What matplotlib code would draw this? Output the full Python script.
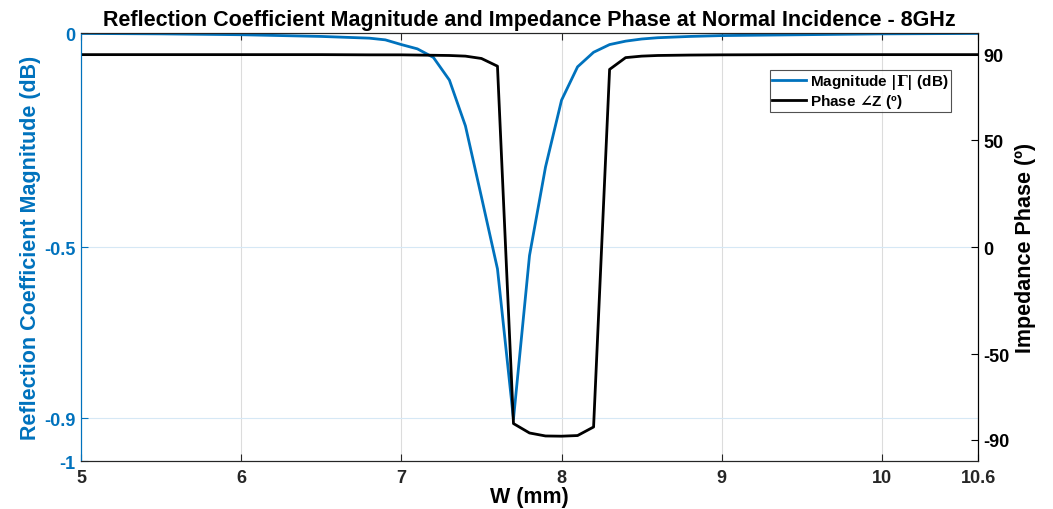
import numpy as np
import matplotlib.pyplot as plt

plt.rcParams['font.family'] = ['Liberation Sans', 'DejaVu Sans']
plt.rcParams['font.weight'] = 'bold'
plt.rcParams['mathtext.fontset'] = 'dejavuserif'
plt.rcParams['axes.unicode_minus'] = False

# W sweep (mm), 0.1 mm step
w = [5.0, 5.5, 6.0, 6.5, 6.8, 6.9, 7.0, 7.1, 7.2, 7.3, 7.4, 7.5, 7.6, 7.7, 7.8,
     7.9, 8.0, 8.1, 8.2, 8.3, 8.4, 8.5, 8.6, 8.8, 9.0, 9.5, 10.0, 10.6]
mag_db = [-0.001, -0.002, -0.004, -0.008, -0.012, -0.016, -0.027, -0.037, -0.057,
          -0.110, -0.217, -0.383, -0.551, -0.902, -0.520, -0.313, -0.157, -0.079,
          -0.045, -0.027, -0.019, -0.014, -0.011, -0.008, -0.006, -0.004, -0.002, -0.001]
phase_deg = [89.9, 89.9, 89.9, 89.9, 89.8, 89.8, 89.8, 89.7, 89.6, 89.5, 89.2, 88.1,
             84.5, -82.5, -86.9, -88.3, -88.4, -88.1, -84.1, 83.0, 88.5, 89.2, 89.5,
             89.7, 89.8, 89.9, 89.9, 89.9]

xticks = [5, 6, 7, 8, 9, 10, 10.6]
xtick_labels = ['5', '6', '7', '8', '9', '10', '10.6']
mag_ticks = [-1, -0.9, -0.5, 0]
mag_tick_labels = ['-1', '-0.9', '-0.5', '0']
phase_ticks = [-90, -50, 0, 50, 90]

blue = '#0072BD'

fig = plt.figure(figsize=(10.53, 5.10), dpi=100)
ax1 = fig.add_axes([0.0769, 0.0941, 0.8519, 0.8392])
ax2 = ax1.twinx()

l1, = ax1.plot(w, mag_db, color=blue, lw=2, label=r'Magnitude $|\Gamma|$ (dB)')
l2, = ax2.plot(w, phase_deg, color='black', lw=2, label=r'Phase $\angle$Z (º)')

ax1.set_xlim(5, 10.6)
ax1.set_ylim(-1, 0)
ax2.set_ylim(-100, 100)

ax1.set_xticks(xticks)
ax1.set_xticklabels(xtick_labels)
ax1.set_yticks(mag_ticks)
ax1.set_yticklabels(mag_tick_labels)
ax2.set_yticks(phase_ticks)

# MATLAB-like grid
ax1.grid(axis='x', color='#dcdcdc', lw=0.8)
ax1.grid(axis='y', color='#d6e8f5', lw=0.8)

ax1.tick_params(axis='x', direction='in', top=True, length=5, labelsize=13, pad=6, colors='#262626')
ax1.tick_params(axis='y', direction='in', length=5, labelsize=13, colors=blue, pad=4)
ax2.tick_params(axis='y', direction='in', length=5, labelsize=13, colors='black', pad=4)
for t in ax1.get_xticklabels() + ax1.get_yticklabels() + ax2.get_yticklabels():
    t.set_fontweight('bold')

ax1.spines['left'].set_color(blue)
ax2.spines['left'].set_color(blue)
for s in ['top', 'bottom']:
    ax1.spines[s].set_color('#262626')
    ax2.spines[s].set_color('#262626')
ax2.spines['right'].set_color('black')

ax1.set_xlabel('W (mm)', fontsize=15.5, fontweight='bold', labelpad=0)
ax1.set_ylabel('Reflection Coefficient Magnitude (dB)', fontsize=15.5, fontweight='bold', color=blue, labelpad=2)
ax2.set_ylabel('Impedance Phase (º)', fontsize=15.5, fontweight='bold', color='black', labelpad=4)
ax1.set_title('Reflection Coefficient Magnitude and Impedance Phase at Normal Incidence - 8GHz',
              fontsize=15.5, fontweight='bold', pad=6)

leg = ax2.legend(handles=[l1, l2], loc='upper right', bbox_to_anchor=(0.970, 0.914),
                 fontsize=11, frameon=True, fancybox=False, edgecolor='#262626',
                 borderpad=0.15, handlelength=2.2, handletextpad=0.3, labelspacing=0.05,
                 borderaxespad=0)
leg.get_frame().set_linewidth(0.8)
for t in leg.get_texts():
    t.set_fontweight('bold')

fig.savefig('out.png', dpi=100)
